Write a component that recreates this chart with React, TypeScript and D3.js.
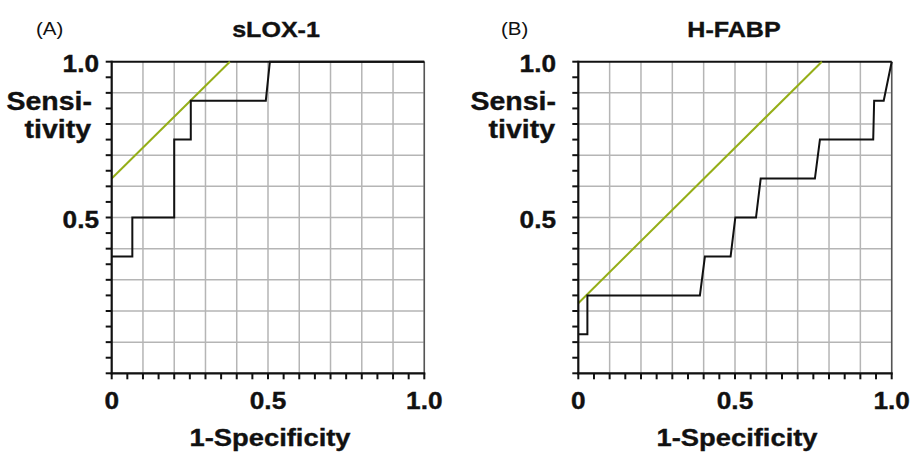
import React from 'react';
import * as d3 from 'd3';

// ROC curves (x = 1-specificity, y = sensitivity)
const rocAFpr = [0, 0.066, 0.066, 0.2, 0.2, 0.253, 0.253, 0.493, 0.506, 1.0];
const rocATpr = [0.375, 0.375, 0.5, 0.5, 0.75, 0.75, 0.875, 0.875, 1.0, 1.0];
const rocBFpr = [0, 0.029, 0.029, 0.388, 0.404, 0.486, 0.501, 0.567, 0.582, 0.755, 0.771, 0.941, 0.944, 0.9745, 1.0];
const rocBTpr = [0.125, 0.125, 0.25, 0.25, 0.375, 0.375, 0.5, 0.5, 0.625, 0.625, 0.75, 0.75, 0.875, 0.875, 1.0];

// tangent (45 degree) lines
const tanAFpr = [0, 0.378];
const tanATpr = [0.625, 1.0];
const tanBFpr = [0, 0.777];
const tanBTpr = [0.225, 1.0];

const xTickVals = [0, 0.5, 1.0];
const xTickLabels = ['0', '0.5', '1.0'];
const yTickVals = [0.5, 1.0];
const yTickLabels = ['0.5', '1.0'];
const gridVals = d3.range(0, 11).map(i => i / 10);
const minorVals = d3.range(0, 21).map(i => i / 20);

const panels = [
  { tag: '(A)', title: 'sLOX-1', fpr: rocAFpr, tpr: rocATpr, tfpr: tanAFpr, ttpr: tanATpr,
    left: 111.7, right: 424.3, tagX: 36, titleX: 276, yLabRight: 99, yTitleRight: 92 },
  { tag: '(B)', title: 'H-FABP', fpr: rocBFpr, tpr: rocBTpr, tfpr: tanBFpr, ttpr: tanBTpr,
    left: 578.3, right: 891.7, tagX: 501, titleX: 734, yLabRight: 556, yTitleRight: 556 },
];

const top = 61.7;
const bottom = 373.3;
const SX = 1.14; // text in the source is a bit wide
const FONT = '"Liberation Sans", Arial, sans-serif';

const T = ({ x, y, size, anchor = 'start', bold = true, children }: any) => (
  <text
    transform={`translate(${x},${y}) scale(${SX},1)`}
    fontFamily={FONT}
    fontSize={size}
    fontWeight={bold ? 'bold' : 'normal'}
    textAnchor={anchor}
    fill="#111"
    stroke={bold ? '#111' : 'none'}
    strokeWidth={0.35}
  >
    {children}
  </text>
);

const Panel = ({ p }: any) => {
  const x = d3.scaleLinear().domain([0, 1]).range([p.left, p.right]);
  const y = d3.scaleLinear().domain([0, 1]).range([bottom, top]);
  const line = d3.line<number>().x((d, i) => x(p.fpr[i])).y(d => y(d));
  const tline = d3.line<number>().x((d, i) => x(p.tfpr[i])).y(d => y(d));

  return (
    <g>
      {gridVals.slice(1).map(v => (
        <line key={'gx' + v} x1={x(v)} x2={x(v)} y1={top} y2={bottom} stroke="#b5b5b5" strokeWidth={1.5} />
      ))}
      {gridVals.slice(0, -1).map(v => (
        <line key={'gy' + v} x1={p.left} x2={p.right} y1={y(v)} y2={y(v)} stroke="#b5b5b5" strokeWidth={1.5} />
      ))}
      <line x1={p.right} x2={p.right} y1={top} y2={bottom} stroke="#555" strokeWidth={1.5} />
      <line x1={p.left} x2={p.right} y1={top} y2={top} stroke="#111" strokeWidth={2} />

      <path d={tline(p.ttpr) || ''} fill="none" stroke="#95ae18" strokeWidth={2} />
      <path d={line(p.tpr) || ''} fill="none" stroke="#111" strokeWidth={2} />

      {/* axes */}
      <line x1={p.left} x2={p.left} y1={top - 1} y2={bottom + 1} stroke="#111" strokeWidth={2.2} />
      <line x1={p.left - 1} x2={p.right + 1} y1={bottom} y2={bottom} stroke="#111" strokeWidth={2.2} />
      {minorVals.map(v => (
        <line key={'ty' + v} x1={p.left - 6} x2={p.left} y1={y(v)} y2={y(v)} stroke="#111" strokeWidth={2} />
      ))}
      {minorVals.map(v => (
        <line key={'tx' + v} x1={x(v)} x2={x(v)} y1={bottom} y2={bottom + 6} stroke="#111" strokeWidth={2} />
      ))}

      {yTickVals.map((v, i) => (
        <T key={'yl' + v} x={p.yLabRight} y={y(v) + 10} size={23} anchor="end">{yTickLabels[i]}</T>
      ))}
      {xTickVals.map((v, i) => (
        <T key={'xl' + v} x={x(v)} y={409} size={23} anchor="middle">{xTickLabels[i]}</T>
      ))}

      <T x={p.yTitleRight} y={110} size={25} anchor="end">Sensi-</T>
      <T x={p.yTitleRight - 1} y={138} size={25} anchor="end">tivity</T>
      <T x={(p.left + p.right) / 2 + 2} y={446} size={24} anchor="middle">1-Specificity</T>

      <T x={p.titleX} y={37} size={22} anchor="middle">{p.title}</T>
      <T x={p.tagX} y={35} size={18} bold={false}>{p.tag}</T>
    </g>
  );
};

export default function App() {
  return (
    <div style={{ position: 'absolute', left: 0, top: 0 }}>
      <svg width={910} height={453} style={{ display: 'block', background: '#fff' }}>
        {panels.map(p => <Panel key={p.tag} p={p} />)}
      </svg>
    </div>
  );
}
